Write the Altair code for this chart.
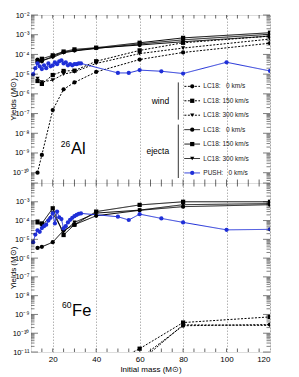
import altair as alt
import pandas as pd
import numpy as np

# ---------------- data ----------------
lc18_mass = [13, 15, 20, 25, 30, 40, 60, 80, 120]

al_wind_0 = [1e-10, 8e-10, 1.5e-7, 1.7e-6, 3.8e-6, 1.3e-5, 5.5e-5, 1.26e-4, 3.7e-4]
al_wind_150 = [4.5e-6, 3.2e-6, 9e-6, 1.45e-5, 1.5e-5, 4.5e-5, 1.6e-4, 3.9e-4, 8.5e-4]
al_wind_300 = [6e-6, 4e-6, 5e-6, 1e-5, 1.3e-5, 3.5e-5, 1.1e-4, 2.1e-4, 6e-4]
al_ej_0 = [5.5e-5, 4.5e-5, 8e-5, 1.3e-4, 1.6e-4, 2.1e-4, 3e-4, 4.4e-4, 8.5e-4]
al_ej_150 = [4.5e-5, 6e-5, 9e-5, 1.4e-4, 1.8e-4, 2.2e-4, 3.9e-4, 6.9e-4, 1.26e-3]
al_ej_300 = [3.5e-5, 5e-5, 7e-5, 1.2e-4, 1.5e-4, 2e-4, 3.4e-4, 5.5e-4, 1.05e-3]

fe_wind_mass = [40, 60, 80, 120]
fe_wind_0 = [5e-13, 4.5e-12, 2.5e-10, 2.9e-10]
fe_wind_150 = [1e-12, 1.5e-11, 3.7e-10, 7.4e-10]
fe_wind_300 = [3e-13, 3e-12, 2.8e-10, 2.6e-10]
fe_ej_0 = [3.5e-6, 4e-6, 7e-6, 3e-5, 6e-5, 1.8e-4, 3.5e-4, 5.5e-4, 7e-4]
fe_ej_150 = [8e-5, 7e-5, 4.5e-4, 1.7e-5, 6e-5, 3e-4, 6.8e-4, 1e-3, 1e-3]
fe_ej_300 = [9e-5, 5e-5, 2.5e-4, 2.5e-5, 8e-5, 2.5e-4, 3.6e-4, 7e-4, 8e-4]

push_mass = [11, 12, 13, 14, 15, 16, 17, 18, 19, 20, 21, 22, 23, 24, 25, 26,
             27, 28, 29, 30, 31, 32, 33, 50, 55, 60, 70, 80, 100, 120]
push_al = [1e-5, 2e-5, 3.5e-5, 2.5e-5, 1.8e-5, 2.8e-5, 2e-5, 3.5e-5, 2.5e-5,
           2.8e-5, 4e-5, 3.2e-5, 4.5e-5, 5e-5, 3.5e-5, 4e-5, 2.8e-5, 3.2e-5,
           2.8e-5, 3.2e-5, 3.2e-5, 3.5e-5, 3.5e-5, 1.15e-5, 1.15e-5, 1.6e-5,
           1.4e-5, 1.07e-5, 4e-5, 1.45e-5]
push_fe = [7e-6, 1.8e-5, 3e-5, 2.5e-5, 4e-5, 5e-5, 6e-5, 1e-4, 1.4e-4, 2.4e-4,
           7e-5, 3e-4, 1.5e-4, 1.2e-4, 3.8e-5, 5e-5, 8e-5, 1.1e-4, 1.4e-4,
           1.7e-4, 2e-4, 2.3e-4, 2.4e-4, 1.6e-4, 1.07e-4, 2.2e-4, 1.3e-4,
           8e-5, 3.2e-5, 3.4e-5]

series_keys = ["w0", "w150", "w300", "e0", "e150", "e300", "push"]
series_labels = ["LC18: \u20070 km/s", "LC18: 150 km/s", "LC18: 300 km/s",
                 "LC18: \u20070 km/s", "LC18: 150 km/s", "LC18: 300 km/s",
                 "PUSH: \u20070 km/s"]

# ---------------- styling ----------------
BLUE = "#1f2fd8"
FONT = "Liberation Sans"
W, H_TOP, H_BOT = 239, 168, 169

color_scale = alt.Scale(domain=series_keys, range=["black"] * 6 + [BLUE])
shape_scale = alt.Scale(domain=series_keys,
                        range=["circle", "square", "triangle-down"] * 2 + ["circle"])
dash_scale = alt.Scale(domain=series_keys,
                       range=[[2, 1.5]] * 3 + [[1, 0]] * 4)
width_scale = alt.Scale(domain=series_keys,
                        range=[1, 1, 1, 1.5, 1.5, 1.5, 1])
size_scale = alt.Scale(domain=series_keys,
                       range=[18, 18, 18, 20, 20, 20, 16])


def long_df(pairs):
    rows = []
    for key, masses, vals in pairs:
        for m, v in zip(masses, vals):
            rows.append({"mass": m, "y": v, "series": key})
    return pd.DataFrame(rows)


al_df = long_df([
    ("w0", lc18_mass, al_wind_0), ("w150", lc18_mass, al_wind_150),
    ("w300", lc18_mass, al_wind_300), ("e0", lc18_mass, al_ej_0),
    ("e150", lc18_mass, al_ej_150), ("e300", lc18_mass, al_ej_300),
    ("push", push_mass, push_al)])
fe_df = long_df([
    ("w0", fe_wind_mass, fe_wind_0), ("w150", fe_wind_mass, fe_wind_150),
    ("w300", fe_wind_mass, fe_wind_300), ("e0", lc18_mass, fe_ej_0),
    ("e150", lc18_mass, fe_ej_150), ("e300", lc18_mass, fe_ej_300),
    ("push", push_mass, push_fe)])

sup = str.maketrans("0123456789-", "⁰¹²³⁴⁵⁶⁷⁸⁹⁻")
label_expr = ""
for e in range(-1, -13, -1):
    label_expr += f"round(log(datum.value)/LN10)=={e}?'10{str(e).translate(sup)}':"
label_expr += "''"


def panel(df, ymin_exp, ymax_exp, label_exps, height, bottom, extra_layers):
    ydom = [10 ** ymin_exp, 10 ** ymax_exp]
    xaxis = alt.Axis(values=[20, 40, 60, 80, 100, 120], grid=True,
                     gridDash=[1.5, 1.5], gridColor="#808080", gridWidth=0.6,
                     ticks=False, domain=False, labels=bottom,
                     labelFontSize=8, labelFont=FONT, labelPadding=3,
                     labelColor="black",
                     title="Initial mass (M⊙)" if bottom else None,
                     titleFontSize=8, titleFont=FONT, titleFontWeight="normal",
                     titlePadding=2, titleColor="black")
    yaxis = alt.Axis(values=[10.0 ** e for e in label_exps], labelExpr=label_expr,
                     grid=False, ticks=False, domain=False,
                     labelFontSize=7.5, labelFont=FONT, labelPadding=2,
                     labelColor="black",
                     title="Yields (M⊙)", titleFontSize=8, titleFont=FONT,
                     titleFontWeight="normal", titleColor="black",
                     titleX=-14, titleY=height / 2, titleBaseline="bottom",
                     titleAngle=270)
    xs = alt.Scale(domain=[10, 120], nice=False, zero=False)
    ys = alt.Scale(type="log", domain=ydom, nice=False)
    X = lambda f: alt.X(f, type="quantitative", scale=xs, axis=xaxis)
    Y = lambda f: alt.Y(f, type="quantitative", scale=ys, axis=yaxis)

    base = alt.Chart(df)
    lines = base.mark_line(clip=True).encode(
        x=X("mass"), y=Y("y"),
        color=alt.Color("series:N", scale=color_scale, legend=None),
        strokeDash=alt.StrokeDash("series:N", scale=dash_scale, legend=None),
        strokeWidth=alt.StrokeWidth("series:N", scale=width_scale, legend=None),
        order="mass:Q")
    pts = base.mark_point(filled=True, clip=True, opacity=1).encode(
        x=X("mass"), y=Y("y"),
        color=alt.Color("series:N", scale=color_scale, legend=None),
        shape=alt.Shape("series:N", scale=shape_scale, legend=None),
        size=alt.Size("series:N", scale=size_scale, legend=None))

    # inward ticks (log minor ticks on the sides, every 5 on top/bottom)
    yt = []
    for e in range(int(np.floor(ymin_exp)), int(np.ceil(ymax_exp)) + 1):
        for k in range(1, 10):
            v = k * 10.0 ** e
            if ydom[0] <= v <= ydom[1] * 1.0001:
                yt.append({"y": v, "major": k == 1})
    ytd = pd.DataFrame(yt)
    xtd = pd.DataFrame({"mass": list(range(15, 120, 5))})
    tick_layers = []
    for major, ln in [(True, 7), (False, 3.5)]:
        sub = alt.Chart(ytd[ytd["major"] == major])
        tick_layers.append(sub.mark_rule(color="black", strokeWidth=0.5).encode(
            y=Y("y"), x=alt.value(0), x2=alt.value(ln)))
        tick_layers.append(sub.mark_rule(color="black", strokeWidth=0.5).encode(
            y=Y("y"), x=alt.value(W - ln), x2=alt.value(W)))
    tx = alt.Chart(xtd)
    tick_layers.append(tx.mark_rule(color="black", strokeWidth=0.6).encode(
        x=X("mass"), y=alt.value(0), y2=alt.value(3.5)))
    tick_layers.append(tx.mark_rule(color="black", strokeWidth=0.6).encode(
        x=X("mass"), y=alt.value(height - 3.5), y2=alt.value(height)))

    extras = [f(X, Y) for f in extra_layers]
    return alt.layer(lines, pts, *tick_layers, *extras).properties(
        width=W, height=height)


# ---------------- annotations ----------------
def iso_label(sup_txt, main_txt, xm, y_main, y_sup):
    def make(X, Y):
        d = pd.DataFrame({"mass": [xm], "y": [y_main], "t": [main_txt]})
        d2 = pd.DataFrame({"mass": [xm - 0.3], "y": [y_sup], "t": [sup_txt]})
        a = alt.Chart(d).mark_text(align="left", baseline="alphabetic",
                                   fontSize=16.5, font=FONT, color="black").encode(
            x=X("mass"), y=Y("y"), text="t:N")
        b = alt.Chart(d2).mark_text(align="right", baseline="alphabetic",
                                    fontSize=8.5, font=FONT, color="black").encode(
            x=X("mass"), y=Y("y"), text="t:N")
        return alt.layer(a, b)
    return make


def legend_layer(X, Y):
    row_exp = [-5.62 - 0.732 * i for i in range(7)]
    leg = pd.DataFrame({
        "series": series_keys,
        "label": series_labels,
        "y": [10 ** e for e in row_exp],
        "x1": [80.6] * 7, "x2": [87.8] * 7, "xm": [84.2] * 7, "xt": [89.3] * 7,
    })
    c = alt.Chart(leg)
    rules = c.mark_rule().encode(
        x=X("x1"), x2="x2:Q", y=Y("y"),
        color=alt.Color("series:N", scale=color_scale, legend=None),
        strokeDash=alt.StrokeDash("series:N", scale=dash_scale, legend=None),
        strokeWidth=alt.StrokeWidth("series:N", scale=width_scale, legend=None))
    marks = c.mark_point(filled=True, opacity=1).encode(
        x=X("xm"), y=Y("y"),
        color=alt.Color("series:N", scale=color_scale, legend=None),
        shape=alt.Shape("series:N", scale=shape_scale, legend=None),
        size=alt.Size("series:N", scale=size_scale, legend=None))
    texts = c.mark_text(align="left", baseline="middle", fontSize=6.5,
                        font=FONT, color="#222").encode(
        x=X("xt"), y=Y("y"), text="label:N")
    groups = pd.DataFrame({"t": ["wind", "ejecta"], "mass": [73.6, 73.6],
                           "y": [10 ** -6.34, 10 ** -8.89]})
    gtext = alt.Chart(groups).mark_text(align="right", baseline="middle",
                                        fontSize=8.5, font=FONT, color="black").encode(
        x=X("mass"), y=Y("y"), text="t:N")
    bars = pd.DataFrame({"mass": [77.8, 77.8],
                         "y": [10 ** -5.42, 10 ** -7.56],
                         "y2": [10 ** -7.31, 10 ** -10.27]})
    brule = alt.Chart(bars).mark_rule(color="black", strokeWidth=0.8).encode(
        x=X("mass"), y=Y("y"), y2="y2:Q")
    return alt.layer(rules, marks, texts, gtext, brule)


top = panel(al_df, np.log10(3e-11), -2, list(range(-2, -11, -1)), H_TOP, False,
            [legend_layer, iso_label("26", "Al", 28.4, 10 ** -9.04, 10 ** -8.68)])
bot = panel(fe_df, -11, -2, list(range(-3, -12, -1)), H_BOT, True,
            [iso_label("60", "Fe", 28.9, 10 ** -9.09, 10 ** -8.67)])

chart = alt.vconcat(top, bot, spacing=0, bounds="flush").properties(
    padding={"left": 0, "top": 2, "right": 6, "bottom": 2}
).configure_view(stroke="black", strokeWidth=1).configure(background="white")

chart.save("out.html", embed_options={"renderer": "svg", "actions": False})
